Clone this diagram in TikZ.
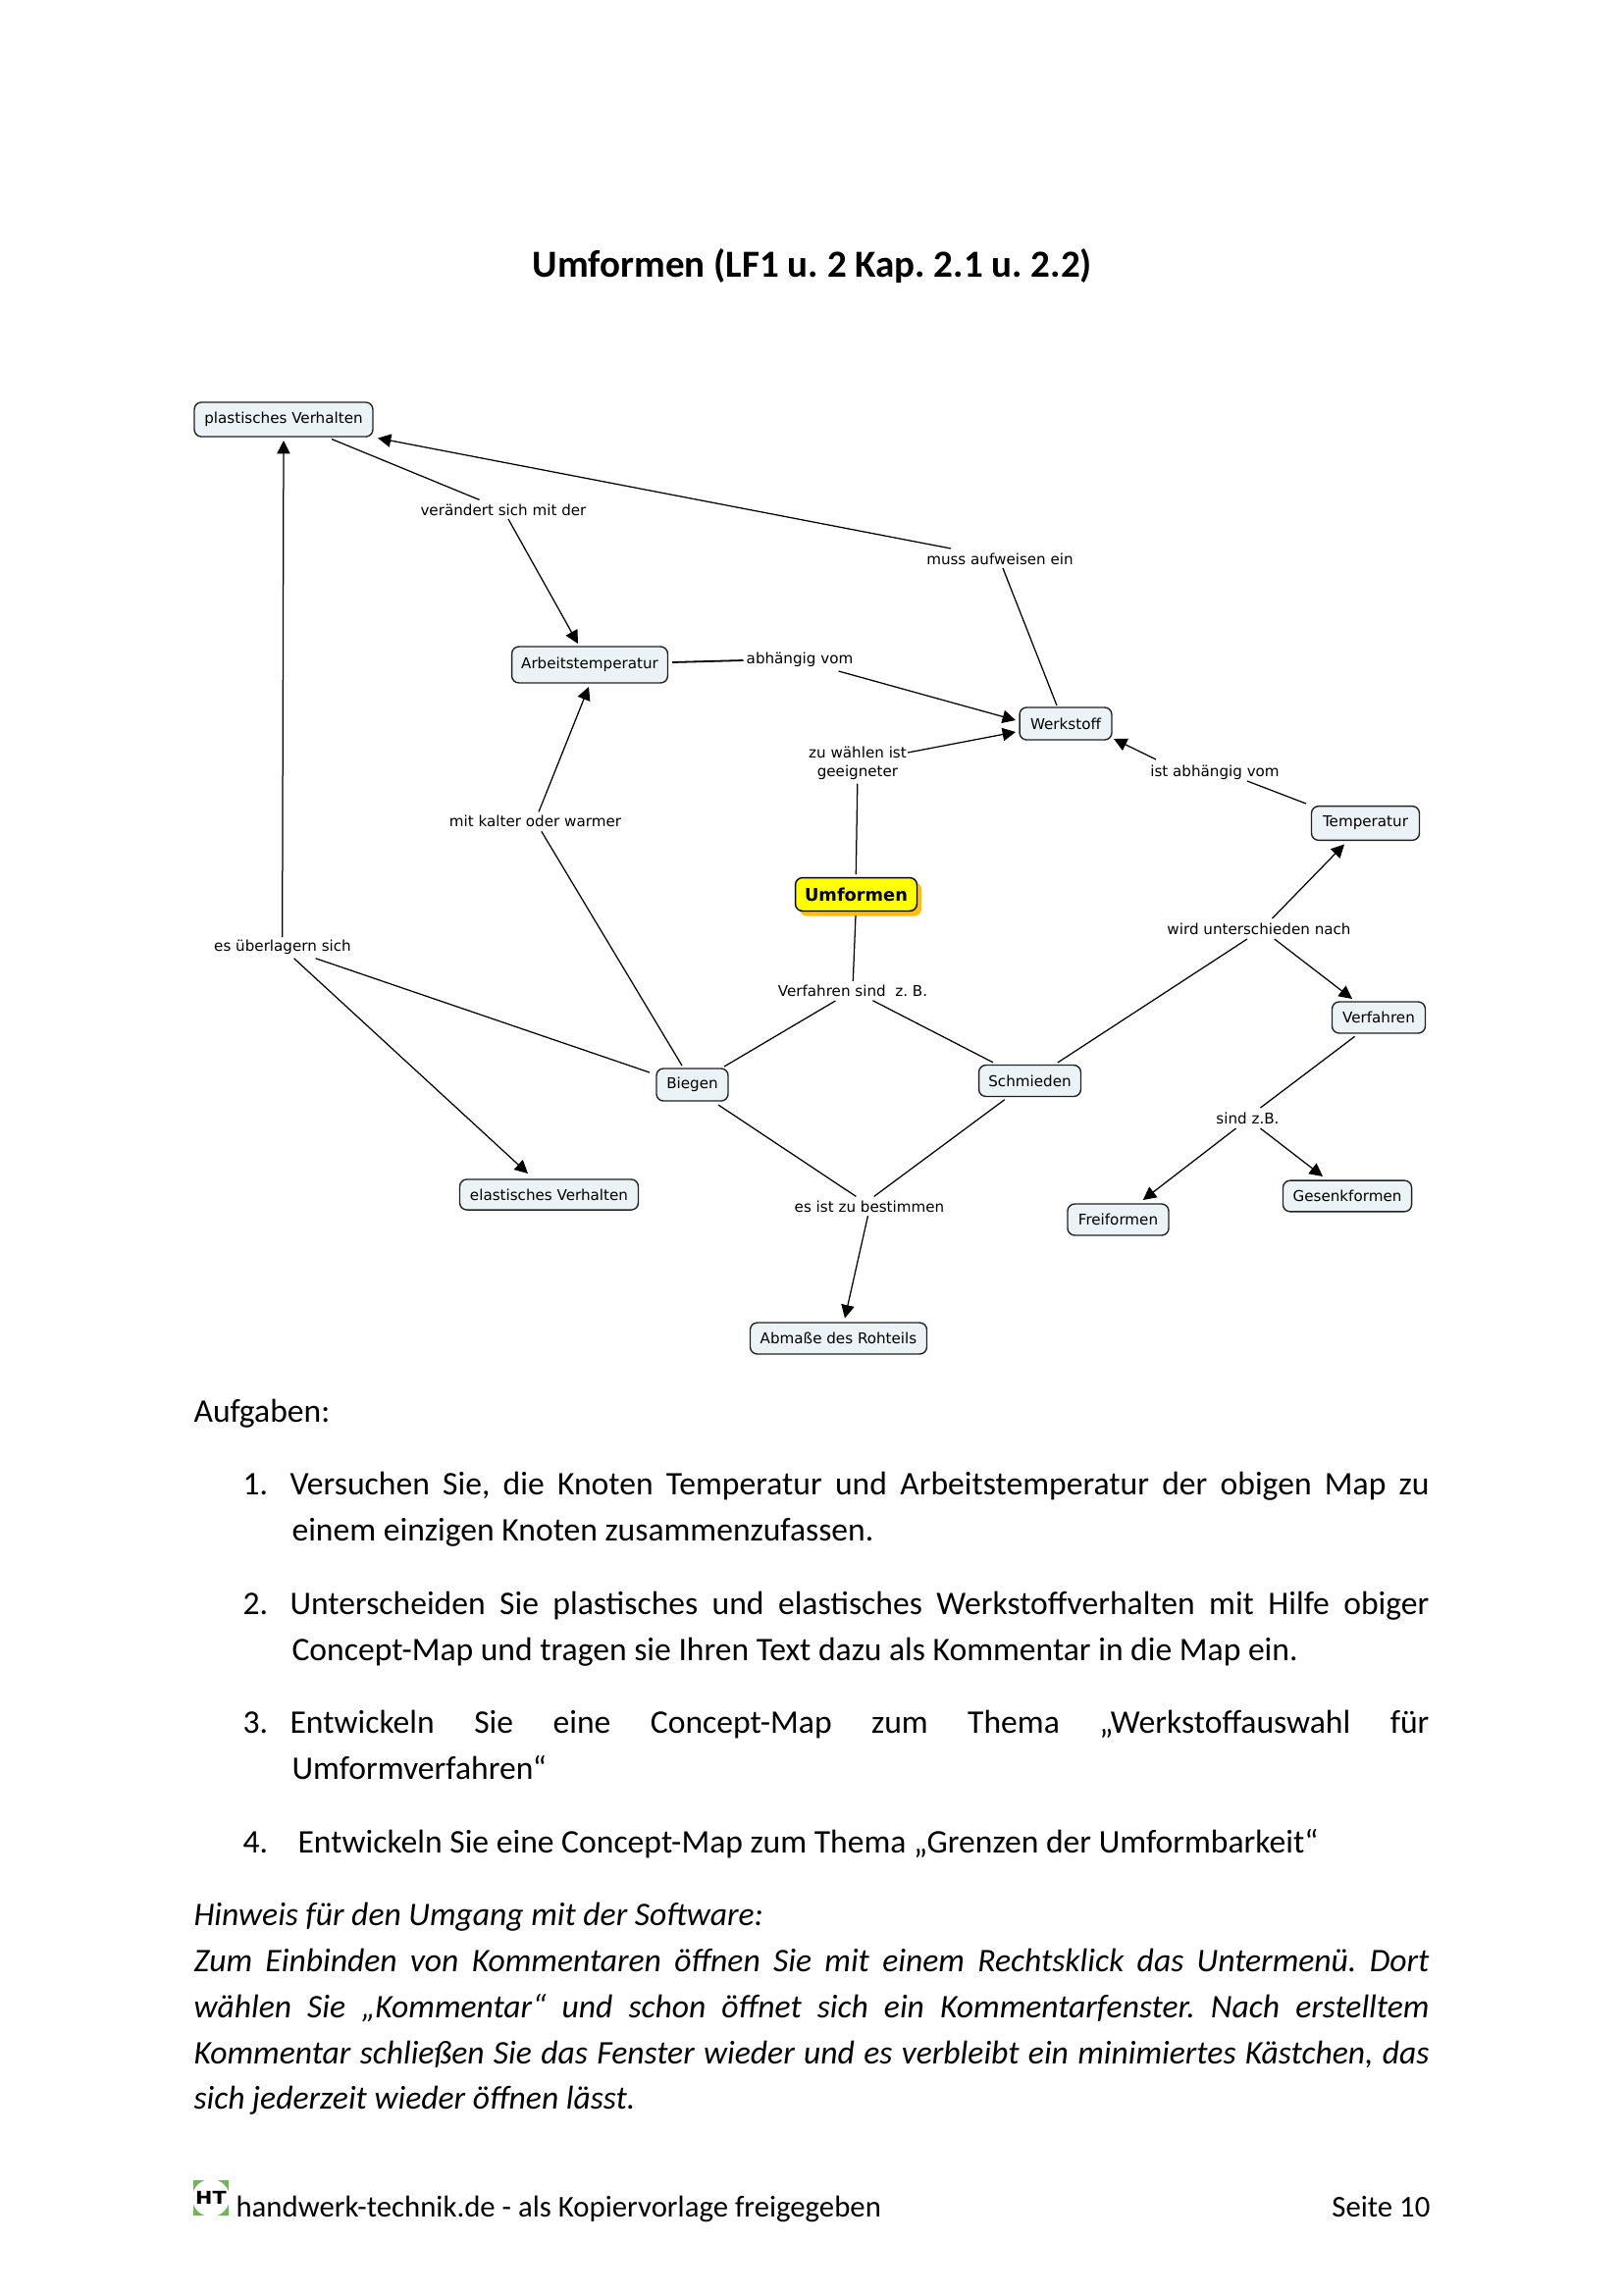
\documentclass[tikz,border=0pt]{standalone}
\usepackage{fontspec}
\setmainfont{Carlito}
\newfontfamily\mapfont{DejaVu Sans}
\usetikzlibrary{arrows.meta,calc}
\frenchspacing
\definecolor{boxfill}{HTML}{EBF3F6}
\definecolor{boxline}{HTML}{222222}
\definecolor{sunny}{HTML}{FFFF00}
\definecolor{gold}{HTML}{FFC000}
\definecolor{htgreen}{HTML}{6DB757}
\tikzset{
  box/.style={draw=boxline,fill=boxfill,line width=.5pt,rounded corners=2.6pt,inner sep=0pt,font=\mapfont\fontsize{5.45}{6}\selectfont,text=black},
  lab/.style={inner sep=0pt,font=\mapfont\fontsize{5.45}{6.9}\selectfont,text=black,align=center},
  conn/.style={line width=.45pt,draw=black},
  arr/.style={conn,-{Triangle[length=4.8pt,width=4.8pt]}},
  body/.style={inner sep=0pt,anchor=base west,font=\fontsize{12.1}{14}\selectfont},
  hint/.style={body,font=\itshape\fontsize{12.1}{14}\selectfont},
  foot/.style={inner sep=0pt,anchor=base west,font=\fontsize{11.08}{14}\selectfont},
}
\newcommand{\lnk}[5][conn]{\draw[#1] ($(#2)+(#3)$) -- ($(#4)+(#5)$);}
\begin{document}
\begin{tikzpicture}[x=0.36pt,y=-0.36pt]
\useasboundingbox (0,0) rectangle (1654,2339);
\node[inner sep=0pt,font=\bfseries\fontsize{14.05}{16}\selectfont] (title) at (828,271) {Umformen (LF1 u. 2 Kap. 2.1 u. 2.2)};

% concepts
\node[box,minimum width=65.5pt,minimum height=12.6pt] (plast) at (289,427.5) {plastisches Verhalten};
\node[box,minimum width=57.2pt,minimum height=13.3pt] (arb) at (601,677.5) {Arbeitstemperatur};
\node[box,minimum width=33.8pt,minimum height=11.9pt] (werk) at (1086,737.5) {Werkstoff};
\node[box,minimum width=39.6pt,minimum height=12.5pt] (temp) at (1391.5,839) {Temperatur};
\fill[gold,rounded corners=2.6pt] (815,899) rectangle (939,933.6);
\node[box,draw=black,fill=sunny,minimum width=44.6pt,minimum height=12.2pt,font=\mapfont\bfseries\fontsize{6.4}{7}\selectfont] (umf) at (872.5,911.5) {Umformen};
\node[box,minimum width=34.2pt,minimum height=11.5pt] (verf) at (1405,1037) {Verfahren};
\node[box,minimum width=37.4pt,minimum height=11.5pt] (schm) at (1049.5,1101.5) {Schmieden};
\node[box,minimum width=26.3pt,minimum height=11.9pt] (bieg) at (705.5,1105.5) {Biegen};
\node[box,minimum width=65.5pt,minimum height=11.2pt] (elast) at (559.5,1217.5) {elastisches Verhalten};
\node[box,minimum width=37.1pt,minimum height=11.5pt] (frei) at (1139.5,1243) {Freiformen};
\node[box,minimum width=47.2pt,minimum height=11.4pt] (ges) at (1373,1219) {Gesenkformen};
\node[box,minimum width=64.8pt,minimum height=11.5pt] (abm) at (854.5,1364) {Abmaße des Rohteils};

% linking phrases
\node[lab] (ver) at (513,519.5) {verändert sich mit der};
\node[lab] (mus) at (1019,570) {muss aufweisen ein};
\node[lab] (abh) at (815,672.5) {abhängig vom};
\node[lab] (zuw) at (874,777.5) {zu wählen ist\\geeigneter};
\node[lab] (kal) at (545.5,837) {mit kalter oder warmer};
\node[lab] (ueb) at (288,965) {es überlagern sich};
\node[lab] (ist) at (1238,787.5) {ist abhängig vom};
\node[lab] (wir) at (1283,946.6) {wird unterschieden nach};
\node[lab] (vs) at (869,1009.5) {Verfahren sind\ \ z. B.};
\node[lab] (bes) at (886,1229.5) {es ist zu bestimmen};
\node[lab] (sin) at (1271.5,1140) {sind z.B.};

% connectors
\lnk{plast}{49,20}{ver}{-24.4,-10.1}
\lnk[arr]{ver}{5,9.5}{arb}{-12,-21.5}
\lnk[arr]{mus}{-50,-11}{plast}{96,19}
\lnk{werk}{-9,-18.5}{mus}{3,9}
\lnk[conn,line width=.65pt]{arb}{84,-2.5}{abh}{-57.5,0.5}
\lnk[arr]{abh}{39.6,11.5}{werk}{-51,-3.5}
\lnk[arr]{zuw}{51,-10.5}{werk}{-51,8.5}
\lnk{umf}{-0.2,-20.5}{zuw}{-0.2,21.2}
\lnk{umf}{-0.5,21.5}{vs}{0.3,-9.7}
\lnk{vs}{-17.6,10.5}{bieg}{32.5,-18.5}
\lnk{vs}{20.4,10.2}{schm}{-37.5,-18.7}
\lnk{schm}{28.3,-18.5}{wir}{-12,10.4}
\lnk[arr]{wir}{13.5,-10.6}{temp}{-21.5,21.5}
\lnk[arr]{wir}{15.8,10.4}{verf}{-27,-19}
\lnk{verf}{-24.5,19.4}{sin}{13,-11}
\lnk[arr]{sin}{-12,10}{frei}{25.3,-20}
\lnk[arr]{sin}{13,10}{ges}{-25,-20}
\lnk{schm}{-25.7,19.2}{bes}{4.7,-10.1}
\lnk{bieg}{26.5,20.5}{bes}{-13.6,-10.1}
\lnk[arr]{bes}{-1.5,9.5}{abm}{6.5,-20.6}
\lnk{temp}{-60.5,-20}{ist}{33,8.5}
\lnk[arr]{ist}{-60,-13.5}{werk}{49,15.5}
\lnk{bieg}{-10.5,-19.5}{kal}{6.3,10.3}
\lnk[arr]{kal}{3.5,-9.6}{arb}{-1,22.5}
\lnk{bieg}{-43.5,-12.5}{ueb}{33.6,11.7}
\lnk[arr]{ueb}{11.6,11.7}{elast}{-21.5,-21.5}
\lnk[arr]{ueb}{-0.3,-10}{plast}{0,21.5}

% text
\node[body] (auf) at (197,1449) {Aufgaben:};
\node[body] (n1) at (247,1523) {1.};
\node[body] (t1a) at (295,1523) {\makebox[1161\dimexpr0.36pt][s]{Versuchen Sie, die Knoten Temperatur und Arbeitstemperatur der obigen Map zu}};
\node[body] (t1b) at (297,1570) {einem einzigen Knoten zusammenzufassen.};
\node[body] (n2) at (247,1645) {2.};
\node[body] (t2a) at (295,1645) {\makebox[1161\dimexpr0.36pt][s]{Unterscheiden Sie plastisches und elastisches Werkstoffverhalten mit Hilfe obiger}};
\node[body] (t2b) at (297,1692) {Concept-Map und tragen sie Ihren Text dazu als Kommentar in die Map ein.};
\node[body] (n3) at (247,1766) {3.};
\node[body] (t3a) at (295,1766) {\makebox[1161\dimexpr0.36pt][s]{Entwickeln Sie eine Concept-Map zum Thema „Werkstoffauswahl für}};
\node[body] (t3b) at (297,1813) {Umformverfahren“};
\node[body] (n4) at (247,1888) {4.};
\node[body] (t4) at (303,1888) {Entwickeln Sie eine Concept-Map zum Thema „Grenzen der Umformbarkeit“};
\node[hint] (h0) at (197,1962) {Hinweis für den Umgang mit der Software:};
\node[hint] (h1) at (197,2009) {\makebox[1259\dimexpr0.36pt][s]{Zum Einbinden von Kommentaren öffnen Sie mit einem Rechtsklick das Untermenü. Dort}};
\node[hint] (h2) at (197,2056) {\makebox[1259\dimexpr0.36pt][s]{wählen Sie „Kommentar“ und schon öffnet sich ein Kommentarfenster. Nach erstelltem}};
\node[hint] (h3) at (197,2103) {\makebox[1259\dimexpr0.36pt][s]{Kommentar schließen Sie das Fenster wieder und es verbleibt ein minimiertes Kästchen, das}};
\node[hint] (h4) at (197,2149) {sich jederzeit wieder öffnen lässt.};

% footer
\fill[htgreen] (197,2222) rectangle (233,2258);
\fill[white] (215,2240) circle (19);
\node[inner sep=0pt,xscale=1.15,font=\mapfont\bfseries\fontsize{6.5}{7}\selectfont] (ht) at (215,2240) {HT};
\node[foot] (ftl) at (240,2259) {handwerk-technik.de - als Kopiervorlage freigegeben};
\node[foot,anchor=base east] (ftr) at (1458,2259) {Seite 10};
\end{tikzpicture}
\end{document}
